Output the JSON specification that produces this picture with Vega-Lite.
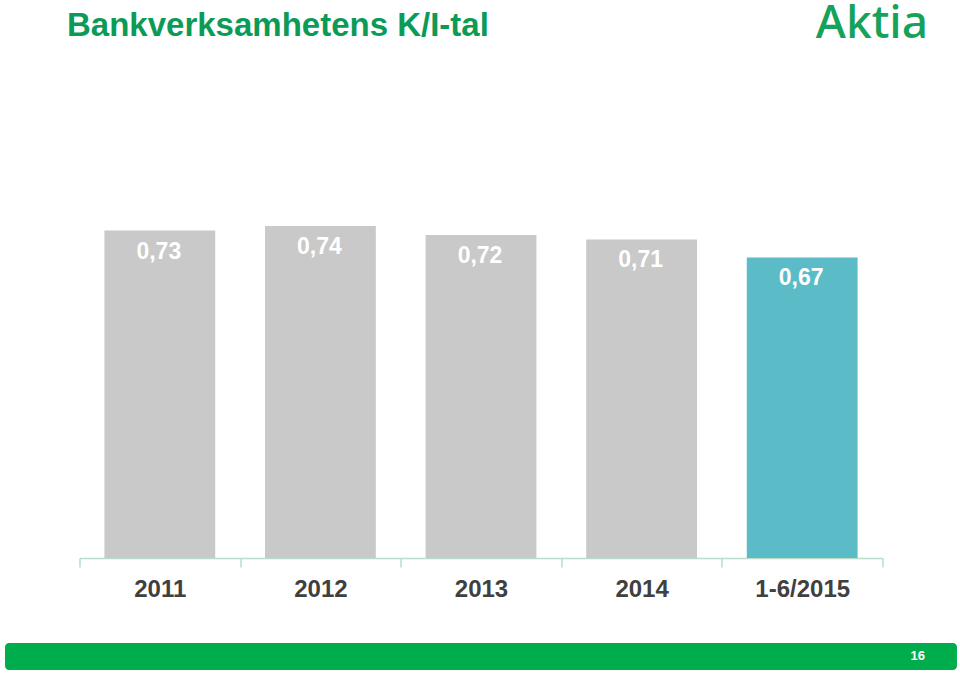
{
  "$schema": "https://vega.github.io/schema/vega-lite/v6.json",
  "padding": {"left": 5, "top": 0, "right": 0, "bottom": 0},
  "background": "white",
  "bounds": "flush",
  "center": true,
  "spacing": 85,
  "config": {"view": {"stroke": null}},
  "vconcat": [
    {
      "width": 803,
      "height": 495,
      "data": {
        "values": [
          {"period": "2011", "value": 0.73, "label": "0,73", "kind": "year"},
          {"period": "2012", "value": 0.74, "label": "0,74", "kind": "year"},
          {"period": "2013", "value": 0.72, "label": "0,72", "kind": "year"},
          {"period": "2014", "value": 0.71, "label": "0,71", "kind": "year"},
          {"period": "1-6/2015", "value": 0.67, "label": "0,67", "kind": "half"}
        ]
      },
      "resolve": {"axis": {"x": "independent", "y": "independent"}},
      "layer": [
        {
          "mark": {"type": "bar"},
          "encoding": {
            "x": {
              "field": "period", "type": "nominal", "sort": null,
              "scale": {"paddingInner": 0.31, "paddingOuter": 0.155},
              "axis": {
                "title": null, "labelAngle": 0,
                "labelFont": "Liberation Sans", "labelFontWeight": "bold", "labelFontSize": 24,
                "labelColor": "#404040", "labelPadding": 10,
                "tickOffset": 80.3, "labelOffset": -80.3,
                "domainColor": "#b9dccb", "domainWidth": 1.5,
                "tickColor": "#b9dccb", "tickWidth": 1.5, "tickSize": 9
              }
            },
            "y": {
              "field": "value", "type": "quantitative",
              "scale": {"domain": [0, 1.1034], "nice": false, "zero": true},
              "axis": {
                "orient": "left", "title": "Bankverksamhetens K/I-tal",
                "domain": false, "ticks": false, "labels": false, "grid": false,
                "titleAngle": 0, "titleAlign": "left", "titleBaseline": "alphabetic",
                "titleX": -13, "titleY": -28,
                "titleFont": "Liberation Sans", "titleFontWeight": "bold", "titleFontSize": 33,
                "titleColor": "#0b9b57"
              }
            },
            "color": {
              "field": "kind", "type": "nominal",
              "scale": {"domain": ["year", "half"], "range": ["#c9c9c9", "#5bbcc8"]},
              "legend": null
            }
          }
        },
        {
          "mark": {"type": "text", "baseline": "middle", "dy": 21, "dx": -1, "font": "Liberation Sans", "fontWeight": "bold", "fontSize": 23, "color": "#ffffff"},
          "encoding": {
            "x": {
              "field": "period", "type": "nominal", "sort": null,
              "axis": {
                "orient": "bottom", "title": null, "domain": false, "labels": false, "grid": false,
                "tickOffset": -80.3, "tickColor": "#b9dccb", "tickWidth": 1.5, "tickSize": 9,
                "values": ["2011"]
              }
            },
            "y": {
              "field": "value", "type": "quantitative",
              "scale": {"domain": [0, 1.1034], "nice": false, "zero": true},
              "axis": {
                "orient": "right", "domain": false, "ticks": false, "labels": false, "grid": false,
                "title": "Aktia", "titleAngle": 0, "titleX": 45, "titleY": -26, "titleAlign": "right", "titleBaseline": "alphabetic",
                "titleFont": "Noto Sans", "titleFontWeight": 500, "titleFontSize": 46, "titleColor": "#16a25b"
              }
            },
            "text": {"field": "label", "type": "nominal"}
          }
        }
      ]
    },
    {
      "width": 952,
      "height": 27,
      "data": {"values": [{"page": "16"}]},
      "title": {
        "text": {"expr": "'16'"},
        "orient": "top", "anchor": "end", "offset": -20, "dx": -32,
        "font": "Liberation Sans", "fontWeight": "bold", "fontSize": 13, "color": "#ffffff"
      },
      "mark": {"type": "rect", "color": "#00ad4d", "cornerRadius": 4},
      "encoding": {}
    }
  ]
}
